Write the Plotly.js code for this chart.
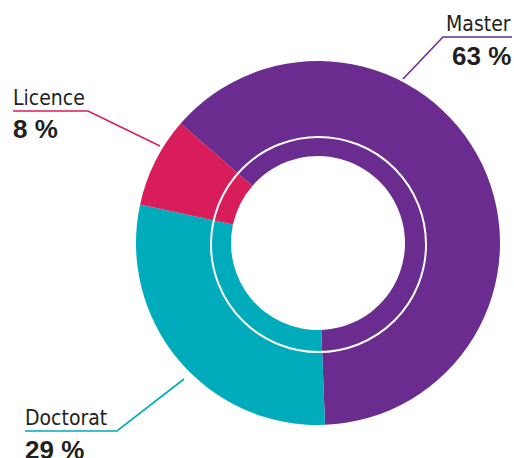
<!DOCTYPE html>
<html>
<head>
<meta charset="utf-8">
<script src="https://cdn.plot.ly/plotly-3.0.1.min.js"></script>
<style>
  html, body { margin: 0; padding: 0; background: #fff; }
  #chart { width: 514px; height: 458px; }
</style>
</head>
<body>
<div id="chart"></div>
<script>
// données
var labels = ['Master', 'Doctorat', 'Licence'];
var values = [63, 29, 8];
var pctLabels = ['63 %', '29 %', '8 %'];
var colors = ['#6a2c8f', '#00abbc', '#d91d5a'];

var W = 514, H = 458;
// pixels -> coordonnées papier
function px(x) { return x / W; }
function py(y) { return 1 - y / H; }

var labelFont = { family: 'DejaVu Sans Condensed, Liberation Sans, sans-serif', size: 21, color: '#231f20' };
var numFont = { family: 'Liberation Sans, Arial, sans-serif', size: 26, color: '#231f20' };

var data = [{
    type: 'pie',
    labels: labels,
    values: values,
    sort: false,
    direction: 'clockwise',
    rotation: -49,
    hole: 0.478,
    marker: { colors: colors, line: { width: 0 } },
    textinfo: 'none',
    hoverinfo: 'label+percent',
    domain: { x: [px(136), px(500)], y: [py(425), py(61)] }
}];

// lignes de rappel
function leader(pts, color) {
    var p = 'M ' + pts.map(function(q) { return px(q[0]) + ',' + py(q[1]); }).join(' L ');
    return { type: 'path', xref: 'paper', yref: 'paper', path: p, line: { color: color, width: 1.6 } };
}

var shapes = [
    { type: 'circle', xref: 'paper', yref: 'paper',
      x0: px(211), x1: px(426), y0: py(352), y1: py(137),
      line: { color: '#ffffff', width: 2 } },
    leader([[403, 79], [443, 37], [512, 37]], colors[0]),
    leader([[184, 379], [117, 431], [25, 431]], colors[1]),
    leader([[160, 146], [88, 111], [13, 111]], colors[2])
];

var annotations = [
    { text: labels[0], x: px(513), y: py(38), xanchor: 'right', yanchor: 'bottom', font: labelFont },
    { text: '<b>' + pctLabels[0] + '</b>', x: px(513), y: py(39), xanchor: 'right', yanchor: 'top', font: numFont },
    { text: labels[2], x: px(11), y: py(112), xanchor: 'left', yanchor: 'bottom', font: labelFont },
    { text: '<b>' + pctLabels[2] + '</b>', x: px(11), y: py(112), xanchor: 'left', yanchor: 'top', font: numFont },
    { text: labels[1], x: px(23), y: py(432), xanchor: 'left', yanchor: 'bottom', font: labelFont },
    { text: '<b>' + pctLabels[1] + '</b>', x: px(23), y: py(433), xanchor: 'left', yanchor: 'top', font: numFont }
];
annotations.forEach(function(a) { a.xref = 'paper'; a.yref = 'paper'; a.showarrow = false; });

var layout = {
    width: W,
    height: H,
    margin: { l: 0, r: 0, t: 0, b: 0 },
    showlegend: false,
    paper_bgcolor: '#ffffff',
    shapes: shapes,
    annotations: annotations
};

Plotly.newPlot('chart', data, layout, { displayModeBar: false });
</script>
</body>
</html>
